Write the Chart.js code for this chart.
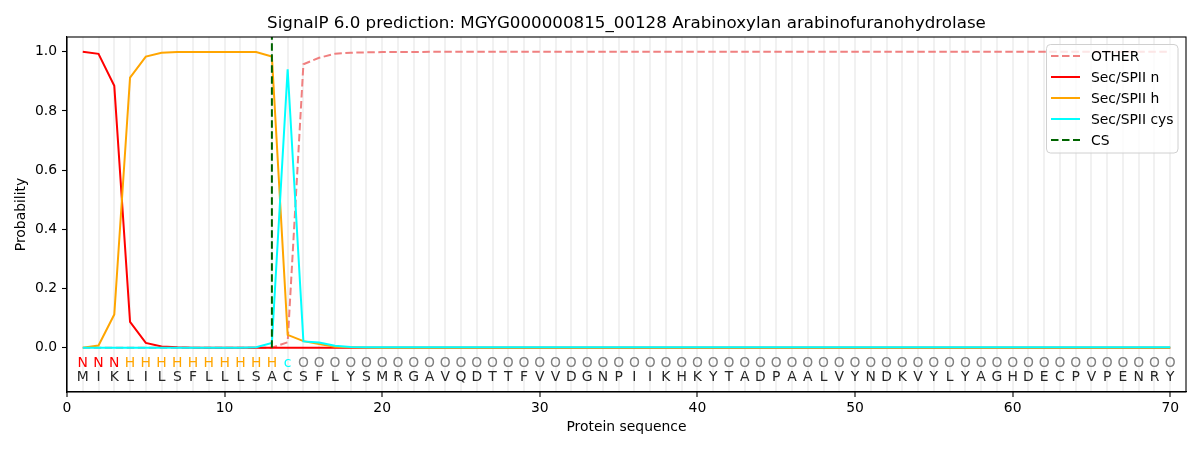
<!DOCTYPE html>
<html>
<head>
<meta charset="utf-8">
<script src="https://cdn.jsdelivr.net/npm/chart.js@4.4.1/dist/chart.umd.min.js"></script>
<style>
  html, body { margin: 0; padding: 0; background: #ffffff; }
  #wrap { width: 1200px; height: 450px; }
</style>
</head>
<body>
<div id="wrap"><canvas id="c" width="1200" height="450"></canvas></div>
<script>
// ---------------- DATA ----------------
const titleText = "SignalP 6.0 prediction: MGYG000000815_00128 Arabinoxylan arabinofuranohydrolase";
const residues = ["M","I","K","L","I","L","S","F","L","L","L","S","A","C","S","F","L","Y","S","M",
                  "R","G","A","V","Q","D","T","T","F","V","V","D","G","N","P","I","I","K","H","K",
                  "Y","T","A","D","P","A","A","L","V","Y","N","D","K","V","Y","L","Y","A","G","H",
                  "D","E","C","P","V","P","E","N","R","Y"];
const regionLabels = ["N","N","N","H","H","H","H","H","H","H","H","H","H","c","O","O","O","O","O","O",
                      "O","O","O","O","O","O","O","O","O","O","O","O","O","O","O","O","O","O","O","O",
                      "O","O","O","O","O","O","O","O","O","O","O","O","O","O","O","O","O","O","O","O",
                      "O","O","O","O","O","O","O","O","O","O"];
const otherVals = [0,0,0,0,0,0,0,0,0,0,0,0,0,0.018,0.958,0.98,0.993,0.997,0.998,0.999,
                   0.999,0.999,1,1,1,1,1,1,1,1,1,1,1,1,1,1,1,1,1,1,
                   1,1,1,1,1,1,1,1,1,1,1,1,1,1,1,1,1,1,1,1,
                   1,1,1,1,1,1,1,1,1,1];
const secNVals = [1.0,0.993,0.885,0.087,0.016,0.004,0.001,0,0,0,0,0,0,0,0,0,0,0,0,0,
                  0,0,0,0,0,0,0,0,0,0,0,0,0,0,0,0,0,0,0,0,
                  0,0,0,0,0,0,0,0,0,0,0,0,0,0,0,0,0,0,0,0,
                  0,0,0,0,0,0,0,0,0,0];
const secHVals = [0,0.007,0.112,0.913,0.984,0.997,0.999,0.999,0.999,0.999,0.999,0.999,0.984,0.043,0.022,0.012,0.003,0.001,0,0,
                  0,0,0,0,0,0,0,0,0,0,0,0,0,0,0,0,0,0,0,0,
                  0,0,0,0,0,0,0,0,0,0,0,0,0,0,0,0,0,0,0,0,
                  0,0,0,0,0,0,0,0,0,0];
const cysVals = [0,0,0,0,0,0,0,0,0,0,0,0.001,0.016,0.941,0.021,0.017,0.006,0.002,0.001,0.001,
                 0.001,0.001,0.001,0.001,0.001,0.001,0.001,0.001,0.001,0.001,0.001,0.001,0.001,0.001,0.001,0.001,0.001,0.001,0.001,0.001,
                 0.001,0.001,0.001,0.001,0.001,0.001,0.001,0.001,0.001,0.001,0.001,0.001,0.001,0.001,0.001,0.001,0.001,0.001,0.001,0.001,
                 0.001,0.001,0.001,0.001,0.001,0.001,0.001,0.001,0.001,0.001];
const csPosition = 13;
const csExtent = [0, 1.05];
const xTickLabels = [0,10,20,30,40,50,60,70];
const yTickLabels = [0.0,0.2,0.4,0.6,0.8,1.0];

// ---------------- STYLE ----------------
const FONT = "'DejaVu Sans', sans-serif";
const regionColors = { N: "#ff0000", H: "#ffa500", c: "#00ffff", O: "#808080" };

function toPoints(vals) { return vals.map((v, i) => ({ x: i + 1, y: v })); }

const datasets = [
  { label: "OTHER", data: toPoints(otherVals), borderColor: "#f08080", borderDash: [7.5, 3.5], order: 5 },
  { label: "Sec/SPII n", data: toPoints(secNVals), borderColor: "#ff0000", order: 4 },
  { label: "Sec/SPII h", data: toPoints(secHVals), borderColor: "#ffa500", order: 3 },
  { label: "Sec/SPII cys", data: toPoints(cysVals), borderColor: "#00ffff", order: 2 },
  { label: "CS", data: csExtent.map(y => ({ x: csPosition, y: y })), borderColor: "#006400", borderDash: [7.5, 3.5], order: 1 }
].map(d => Object.assign({ borderWidth: 2, pointRadius: 0, pointHoverRadius: 0, tension: 0, fill: false }, d));

const decorPlugin = {
  id: "decor",
  afterDatasetsDraw(chart) {
    const { ctx, chartArea: a, scales: { x, y } } = chart;
    ctx.save();
    ctx.beginPath();
    ctx.rect(a.left, a.top, a.right - a.left, a.bottom - a.top);
    ctx.clip();
    ctx.font = "13.9px " + FONT;
    ctx.textAlign = "center";
    ctx.textBaseline = "alphabetic";
    for (let i = 0; i < residues.length; i++) {
      const px = x.getPixelForValue(i + 1);
      ctx.fillStyle = regionColors[regionLabels[i]];
      ctx.fillText(regionLabels[i], px, y.getPixelForValue(-0.065));
      ctx.fillStyle = "#262626";
      ctx.fillText(residues[i], px, y.getPixelForValue(-0.1145));
    }
    ctx.restore();

    // frame
    ctx.save();
    ctx.strokeStyle = "#000000";
    ctx.lineWidth = 1.1;
    ctx.strokeRect(a.left, a.top, a.right - a.left, a.bottom - a.top);
    ctx.restore();

    // title
    ctx.save();
    ctx.font = "16.7px " + FONT;
    ctx.fillStyle = "#000000";
    ctx.textAlign = "center";
    ctx.textBaseline = "alphabetic";
    ctx.fillText(titleText, (a.left + a.right) / 2, a.top - 9);
    ctx.restore();

    // legend
    ctx.save();
    const lx = 1046.5, ly = 44.5, lw = 131.5, lh = 108.5, r = 4;
    ctx.globalAlpha = 0.8;
    ctx.fillStyle = "#ffffff";
    ctx.beginPath();
    ctx.roundRect(lx, ly, lw, lh, r);
    ctx.fill();
    ctx.globalAlpha = 1;
    ctx.strokeStyle = "#d0d0d0";
    ctx.lineWidth = 1;
    ctx.stroke();
    ctx.font = "13.9px " + FONT;
    ctx.textAlign = "left";
    ctx.textBaseline = "middle";
    chart.data.datasets.forEach((ds, i) => {
      const ry = 56 + i * 21;
      ctx.strokeStyle = ds.borderColor;
      ctx.lineWidth = 2;
      ctx.setLineDash(ds.borderDash || []);
      ctx.beginPath();
      ctx.moveTo(1051, ry);
      ctx.lineTo(1080, ry);
      ctx.stroke();
      ctx.setLineDash([]);
      ctx.fillStyle = "#000000";
      ctx.fillText(ds.label, 1091, ry + 1);
    });
    ctx.restore();
  }
};

new Chart(document.getElementById("c"), {
  type: "line",
  data: { datasets },
  plugins: [decorPlugin],
  options: {
    responsive: false,
    animation: false,
    devicePixelRatio: 1,
    layout: { padding: { top: 37, right: 14, left: 0, bottom: 0 } },
    plugins: { legend: { display: false }, title: { display: false }, tooltip: { enabled: false } },
    scales: {
      x: {
        type: "linear",
        min: 0,
        max: 71,
        afterFit(s) { s.height = 58; },
        afterBuildTicks(s) {
          const t = [];
          for (let v = 0; v <= 71; v++) t.push({ value: v });
          s.ticks = t;
        },
        ticks: {
          autoSkip: false,
          maxRotation: 0,
          padding: 3,
          color: "#000000",
          font: { family: FONT, size: 13.9 },
          callback: v => (xTickLabels.includes(v) ? String(v) : "")
        },
        grid: {
          color: c => (c.tick && c.tick.value >= 1 && c.tick.value <= 70 ? "rgba(225,225,225,0.45)" : "rgba(0,0,0,0)"),
          lineWidth: 2,
          tickColor: c => (c.tick && xTickLabels.includes(c.tick.value) ? "#000000" : "rgba(0,0,0,0)"),
          tickLength: 5,
          tickWidth: 1.1
        },
        border: { display: true, color: "#000000", width: 1.1 },
        title: { display: true, text: "Protein sequence", color: "#000000", font: { family: FONT, size: 13.9 }, padding: { top: 0, bottom: 14.5 } }
      },
      y: {
        type: "linear",
        min: -0.15,
        max: 1.05,
        afterFit(s) { s.width = 67; },
        afterBuildTicks(s) { s.ticks = yTickLabels.map(v => ({ value: v })); },
        ticks: {
          padding: 5,
          color: "#000000",
          font: { family: FONT, size: 13.9 },
          callback: v => v.toFixed(1)
        },
        grid: { drawOnChartArea: false, tickColor: "#000000", tickLength: 5, tickWidth: 1.1 },
        border: { display: true, color: "#000000", width: 1.1 },
        title: { display: true, text: "Probability", color: "#000000", font: { family: FONT, size: 13.9 }, padding: { top: 13.5, bottom: 0 } }
      }
    }
  }
});
</script>
</body>
</html>
